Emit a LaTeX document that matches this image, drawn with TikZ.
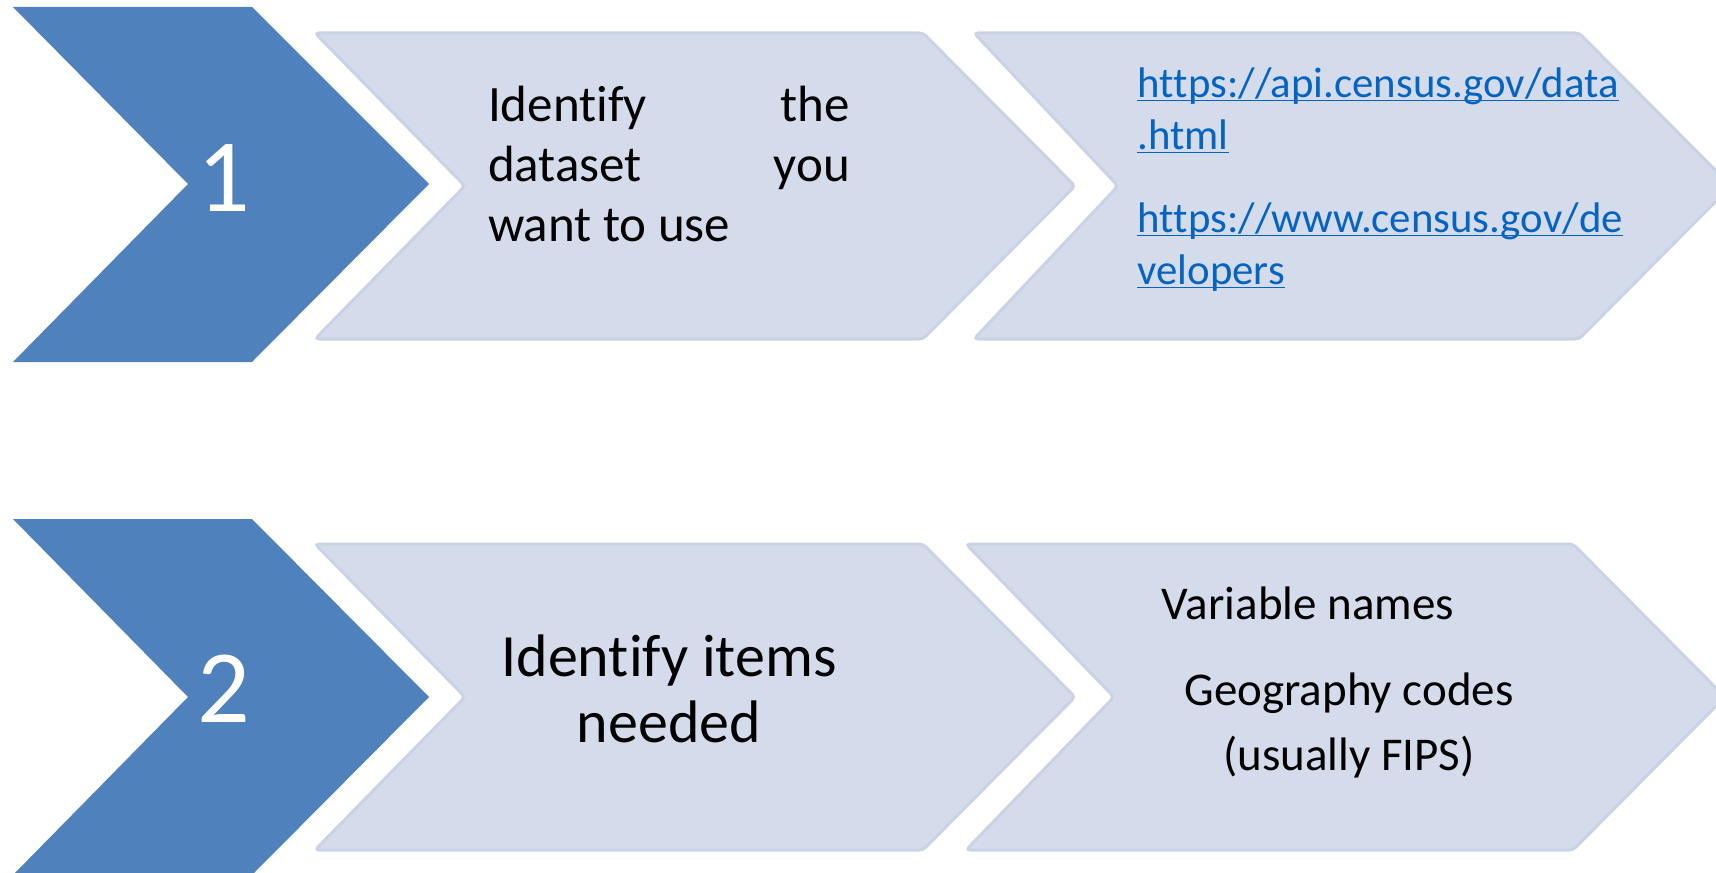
\documentclass[tikz,border=0pt]{standalone}
\usepackage{fontspec}
\setmainfont{Carlito}[Ligatures=NoCommon]
\definecolor{stepblue}{HTML}{4F81BD}
\definecolor{panelfill}{HTML}{D4DBEB}
\definecolor{paneledge}{HTML}{CAD2E5}
\definecolor{linkblue}{HTML}{0563C1}
\tikzstyle{numchev} = [fill=stepblue]
\tikzstyle{panel} = [fill=panelfill, draw=paneledge, line width=1.5pt, rounded corners=2pt]
\tikzstyle{numtext} = [text=white, font=\fontsize{52}{60}\selectfont]
\tikzstyle{bodytext} = [text=black, inner sep=0pt]
\tikzstyle{linktext} = [text=linkblue, inner sep=0pt, align=flush left, font=\fontsize{21.4}{25.7}\selectfont]
\newcommand{\weblink}[1]{\underline{\smash{#1}}}

\begin{document}
\begin{tikzpicture}[x=0.5pt, y=-0.5pt]
\useasboundingbox (0,0) rectangle (1716,872);
\clip (0,0) rectangle (1716,872);

% row 1
\fill [numchev] (13,7) -- (252,7) -- (429,184) -- (252,362) -- (13,362) -- (188,184) -- cycle;
\draw [panel] (315,33) -- (923,33) -- (1075,186) -- (923,339) -- (315,339) -- (465,186) -- cycle;
\draw [panel] (974,33) -- (1579,33) -- (1731,186) -- (1579,339) -- (974,339) -- (1118,186) -- cycle;
\node (one) [numtext] at (224,178) {1};
\node (dataset) [bodytext, text width=181pt, align=flush left, font=\fontsize{25.5}{29.8}\selectfont] at (669,164)
  {Identify\hfill the\\dataset\hfill you\\want to use};
\node (links) [linktext, anchor=west] at (1137,193)
  {\weblink{ht\kern0pt tps://api.census.gov/data}\\\weblink{.html}\\[16pt]\weblink{ht\kern0pt tps://www.census.gov/de}\\\weblink{velopers}};

% row 2
\fill [numchev] (13,519) -- (252,519) -- (429,697) -- (252,875) -- (13,875) -- (188,697) -- cycle;
\draw [panel] (315,544) -- (923,544) -- (1075,697) -- (923,850) -- (315,850) -- (465,697) -- cycle;
\draw [panel] (966,544) -- (1573,544) -- (1725,697) -- (1573,850) -- (966,850) -- (1114,697) -- cycle;
\node (two) [numtext] at (224,689) {2};
\node (items) [bodytext, align=center, font=\fontsize{30}{33}\selectfont] at (669,689) {Identify items\\needed};
\node (varnames) [bodytext, font=\fontsize{23.5}{32.5}\selectfont] at (1308,603) {Variable names};
\node (geocodes) [bodytext, align=center, font=\fontsize{23.5}{32.5}\selectfont] at (1349,725) {Geography codes\\(usually FIPS)};

\end{tikzpicture}
\end{document}
